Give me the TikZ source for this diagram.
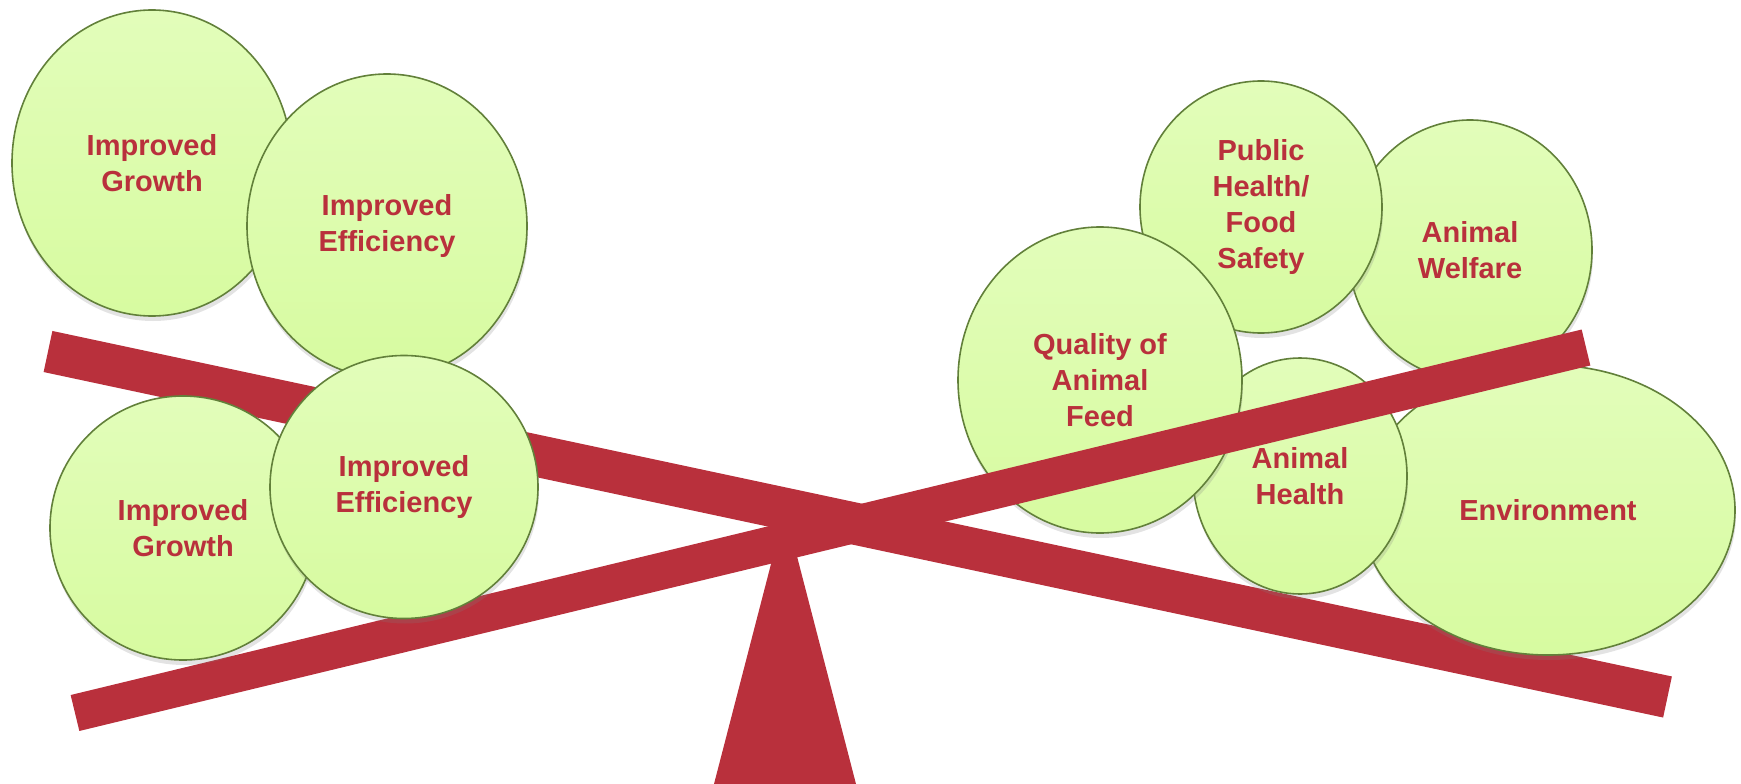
\documentclass[tikz,border=0pt]{standalone}
\usepackage{fontspec}
\setmainfont{Liberation Sans}
\usepackage[dvipsnames,svgnames]{xcolor}
\usepackage[]{tikz}
\usetikzlibrary{shapes.geometric,shadows}
\definecolor{beamred}{RGB}{185,48,60}
\definecolor{bubblefill}{RGB}{215,251,160}
\definecolor{bubbletop}{RGB}{226,253,186}
\definecolor{bubbleedge}{RGB}{98,128,58}
\tikzset{bubble/.style={ellipse,draw=bubbleedge,line width=1.6pt,top color=bubbletop,middle color=bubblefill,bottom color=bubblefill,inner sep=0pt,align=center,text=beamred,font=\bfseries\fontsize{29}{36}\selectfont,drop shadow={shadow xshift=1pt,shadow yshift=-5pt,opacity=0.22,fill=gray}}}
\tikzset{beam/.style={draw=beamred,line cap=butt}}

\begin{document}
\begin{tikzpicture}[x=1pt,y=-1pt] % 以像素为单位, y 轴向下
        \useasboundingbox (0,0) rectangle (1741,784);
        % 左上方两个
        \node[bubble,minimum width=280pt,minimum height=306pt] (growthA) at (152,163) {Improved\\Growth};
        \node[bubble,minimum width=280pt,minimum height=304pt] (effA) at (387,226) {Improved\\Efficiency};
        \draw[beam,line width=42pt] (48,351.5)--(1667.5,697); % 向右下倾斜的杠杆
        % 右侧
        \node[bubble,minimum width=244pt,minimum height=260pt] (welfare) at (1470,250) {Animal\\Welfare};
        \node[bubble,minimum width=242pt,minimum height=252pt] (public) at (1261,207) {Public\\Health/\\Food\\Safety};
        \node[bubble,minimum width=374pt,minimum height=290pt] (env) at (1548,510) {Environment};
        \node[bubble,minimum width=214pt,minimum height=236pt] (health) at (1300,476) {Animal\\Health};
        \node[bubble,minimum width=284pt,minimum height=306pt] (feed) at (1100,380) {Quality of\\Animal\\Feed};
        \fill[beamred] (785,510)--(714,784)--(856,784)--cycle; % 支点
        \draw[beam,line width=37pt] (75,713)--(1586,347.5); % 向右上倾斜的杠杆
        % 左下方两个
        \node[bubble,minimum width=266pt,minimum height=264pt] (growthB) at (183,528) {Improved\\Growth};
        \node[bubble,minimum width=268pt,minimum height=263pt] (effB) at (404,487) {Improved\\Efficiency};
\end{tikzpicture}
\end{document}
